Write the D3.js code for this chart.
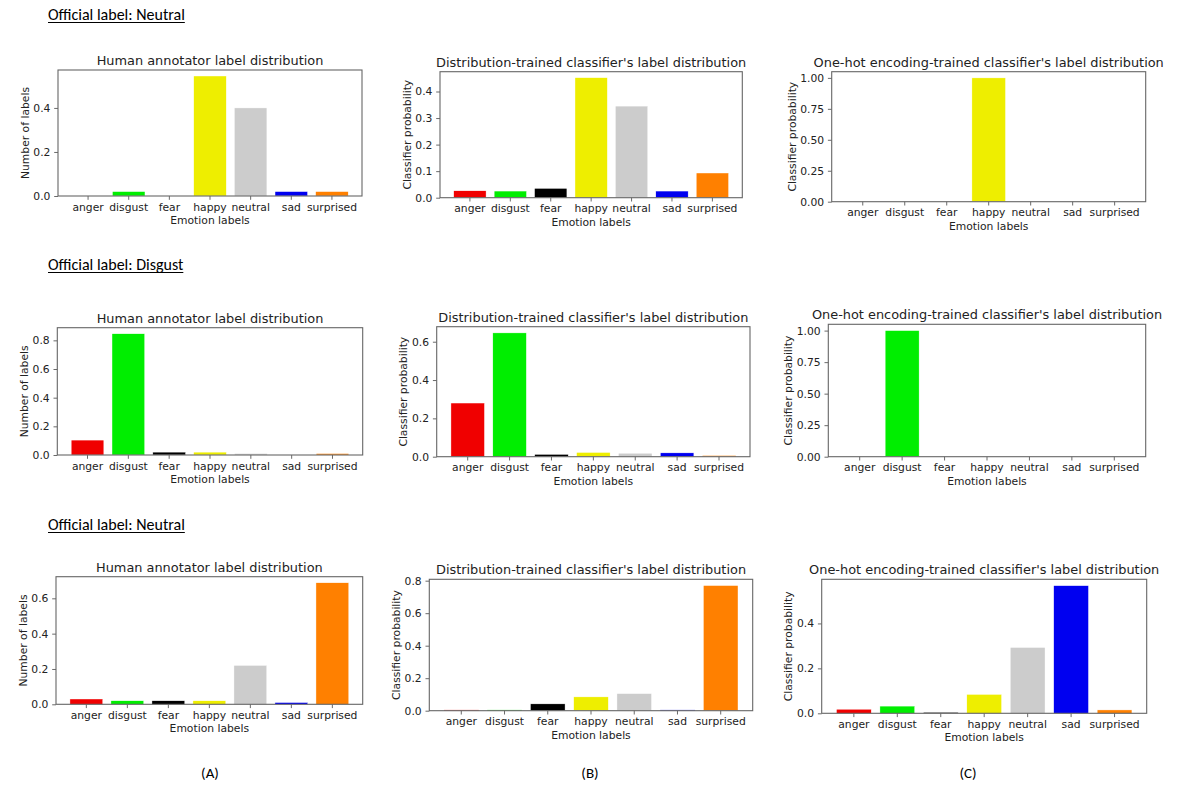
<!DOCTYPE html>
<html>
<head>
<meta charset="utf-8">
<script src="https://cdn.jsdelivr.net/npm/d3@7"></script>
<style>
    body { margin: 0; background: #fff; }
    svg { display: block; }
    text { fill: #222; }
</style>
</head>
<body>
<div id="chart"></div>
<script>
///////////////////////////
// DATA
///////////////////////////

const emotions = ['anger', 'disgust', 'fear', 'happy', 'neutral', 'sad', 'surprised'];
const emotionColors = ['#f00000', '#00ee00', '#000000', '#eeee00', '#cccccc', '#0000f0', '#ff8000'];

const officialLabels = ['Neutral', 'Disgust', 'Neutral'];
const columnLetters = ['(A)', '(B)', '(C)'];
const panelTitles = [
    'Human annotator label distribution',
    "Distribution-trained classifier's label distribution",
    "One-hot encoding-trained classifier's label distribution"
];
const yLabels = ['Number of labels', 'Classifier probability', 'Classifier probability'];
const xLabel = 'Emotion labels';

// row 1 - official label neutral
const row1Human = [0, 0.02, 0, 0.545, 0.40, 0.02, 0.02];
const row1Dist = [0.026, 0.025, 0.035, 0.452, 0.345, 0.025, 0.093];
const row1OneHot = [0, 0, 0, 1, 0, 0, 0];

// row 2 - official label disgust
const row2Human = [0.104, 0.846, 0.02, 0.02, 0.01, 0, 0.01];
const row2Dist = [0.28, 0.646, 0.012, 0.022, 0.018, 0.02, 0.006];
const row2OneHot = [0, 1, 0, 0, 0, 0, 0];

// row 3 - official label neutral
const row3Human = [0.03, 0.02, 0.02, 0.02, 0.22, 0.01, 0.688];
const row3Dist = [0.005, 0.005, 0.042, 0.085, 0.105, 0.005, 0.77];
const row3OneHot = [0.018, 0.032, 0.004, 0.084, 0.293, 0.568, 0.015];

// y tick labels
const row1Ticks = [[0, 0.2, 0.4], [0, 0.1, 0.2, 0.3, 0.4], [0, 0.25, 0.5, 0.75, 1]];
const row2Ticks = [[0, 0.2, 0.4, 0.6, 0.8], [0, 0.2, 0.4, 0.6], [0, 0.25, 0.5, 0.75, 1]];
const row3Ticks = [[0, 0.2, 0.4, 0.6], [0, 0.2, 0.4, 0.6, 0.8], [0, 0.2, 0.4]];

///////////////////////////
// LAYOUT
///////////////////////////

// axes boxes [left, top, right, bottom], as they sit in the figure
const boxes = [
    [[58, 70, 362, 196], [440, 71.7, 742.3, 197.7], [831.7, 71.7, 1145.7, 201.7]],
    [[57.3, 327.7, 362.7, 455], [436.7, 326.7, 750, 456.7], [828.3, 324.3, 1145.7, 456.7]],
    [[56, 576.7, 362.7, 704.3], [429.3, 579.3, 752.7, 710.7], [821.7, 579.3, 1146.7, 713.3]]
];
const headerY = [20, 270, 530];
const letterX = [210, 590, 968];

const rows = [
    { values: [row1Human, row1Dist, row1OneHot], ticks: row1Ticks },
    { values: [row2Human, row2Dist, row2OneHot], ticks: row2Ticks },
    { values: [row3Human, row3Dist, row3OneHot], ticks: row3Ticks }
];

const fontMpl = "'DejaVu Sans', sans-serif";
const fontDoc = "Carlito, Calibri, 'Open Sans', sans-serif";
const tickSize = 12.9 * 10 / 12;

let svg = d3.select('#chart')
    .append('svg')
    .attr('width', 1178)
    .attr('height', 785);

///////////////////////////
// PANELS
///////////////////////////

const drawPanel = (g, box, values, ticks, col) => {
    const [left, top, right, bottom] = box;
    const maxVal = d3.max(values);

    let x = d3.scaleBand()
        .domain(emotions)
        .range([left, right])
        .paddingInner(0.2)
        .paddingOuter(0.34);

    let y = d3.scaleLinear()
        .domain([0, maxVal * 1.05])
        .range([bottom, top]);

    // bars
    g.selectAll('.bar')
        .data(emotions)
        .enter().append('rect')
        .attr('class', 'bar')
        .attr('x', (d) => { return x(d) })
        .attr('width', x.bandwidth())
        .attr('y', (d, i) => { return y(values[i]) })
        .attr('height', (d, i) => { return bottom - y(values[i]) })
        .style('fill', (d, i) => { return emotionColors[i] })
        .style('stroke', '#fff')
        .style('stroke-width', 0.4);

    // axes
    const decimals = ticks[1] === 0.25 ? 2 : 1;
    let yAxis = g.append('g')
        .attr('transform', `translate(${left},0)`)
        .call(d3.axisLeft(y).tickValues(ticks).tickFormat(d3.format(`.${decimals}f`)).tickSize(3.8).tickPadding(3.8));

    let xAxis = g.append('g')
        .attr('transform', `translate(0,${bottom})`)
        .call(d3.axisBottom(x).tickSize(3.8).tickPadding(3.2));

    [yAxis, xAxis].forEach((a) => {
        a.select('.domain').remove();
        a.selectAll('line').style('stroke', '#444').style('stroke-width', 0.8);
        a.selectAll('text')
            .style('font-family', fontMpl)
            .style('font-size', tickSize + 'px')
            .style('fill', '#222');
    });

    // frame
    g.append('rect')
        .attr('x', left)
        .attr('y', top)
        .attr('width', right - left)
        .attr('height', bottom - top)
        .style('fill', 'none')
        .style('stroke', '#666')
        .style('stroke-width', 1.1);

    // title
    g.append('text')
        .attr('x', (left + right) / 2)
        .attr('y', top - 5)
        .attr('text-anchor', 'middle')
        .style('font-family', fontMpl)
        .style('font-size', '12.9px')
        .text(panelTitles[col]);

    // x label
    g.append('text')
        .attr('x', (left + right) / 2)
        .attr('y', bottom + 28)
        .attr('text-anchor', 'middle')
        .style('font-family', fontMpl)
        .style('font-size', tickSize + 'px')
        .text(xLabel);

    // y label, left of the widest tick label
    let tickW = d3.max(yAxis.selectAll('text').nodes(), (n) => { return n.getComputedTextLength() });
    g.append('text')
        .attr('transform', `translate(${left - 3.8 - 3.8 - tickW - 4.5},${(top + bottom) / 2}) rotate(-90)`)
        .attr('text-anchor', 'middle')
        .style('font-family', fontMpl)
        .style('font-size', tickSize + 'px')
        .text(yLabels[col]);
}

rows.forEach((row, r) => {
    // section header
    let header = svg.append('text')
        .attr('x', 48)
        .attr('y', headerY[r])
        .style('font-family', fontDoc)
        .style('font-size', '16px')
        .style('fill', '#000')
        .text(`Official label: ${officialLabels[r]}`);
    let w = header.node().getComputedTextLength();
    svg.append('line')
        .attr('x1', 48)
        .attr('x2', 48 + w)
        .attr('y1', headerY[r] + 2.5)
        .attr('y2', headerY[r] + 2.5)
        .style('stroke', '#000')
        .style('stroke-width', 1);

    row.values.forEach((vals, c) => {
        drawPanel(svg.append('g').attr('class', 'panel'), boxes[r][c], vals, row.ticks[c], c);
    });
});

columnLetters.forEach((l, i) => {
    svg.append('text')
        .attr('x', letterX[i])
        .attr('y', 778)
        .attr('text-anchor', 'middle')
        .style('font-family', fontDoc)
        .style('font-size', '15px')
        .style('fill', '#000')
        .text(l);
});
</script>
</body>
</html>
